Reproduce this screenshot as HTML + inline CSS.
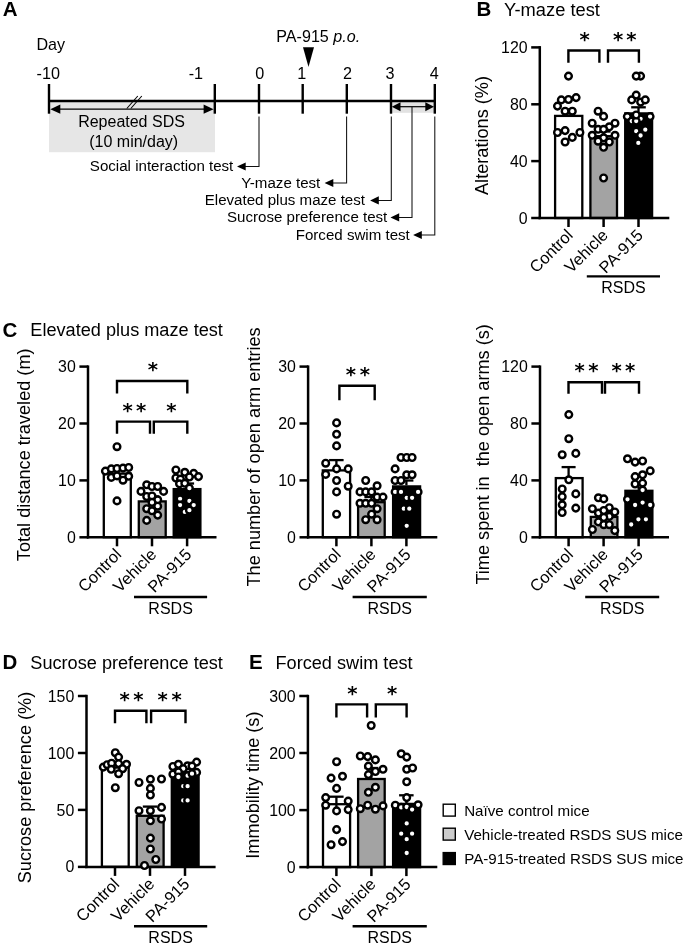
<!DOCTYPE html>
<html lang="en"><head><meta charset="utf-8"><title>Figure</title>
<style>
html,body{margin:0;padding:0;background:#fff;}
svg{display:block;font-family:"Liberation Sans", Arial, Helvetica, sans-serif;fill:#000;will-change:transform;}
</style></head><body>
<svg width="685" height="945" viewBox="0 0 685 945">
<rect x="0" y="0" width="685" height="945" fill="#fff"/>
<text x="2.8" y="16.3" font-size="20.5" text-anchor="start" font-weight="bold" >A</text>
<text x="36.5" y="50.0" font-size="16.1" text-anchor="start" font-weight="normal" >Day</text>
<rect x="49" y="101" width="166" height="51.2" fill="#e6e6e6"/>
<rect x="391" y="101" width="44" height="11.8" fill="#e2e2e2"/>
<line x1="48.0" y1="101.0" x2="436.0" y2="101.0" stroke="#000" stroke-width="2.5" />
<line x1="49.0" y1="84.0" x2="49.0" y2="113.7" stroke="#000" stroke-width="2.4" />
<line x1="214.8" y1="84.0" x2="214.8" y2="113.7" stroke="#000" stroke-width="2.4" />
<line x1="259.0" y1="84.0" x2="259.0" y2="113.7" stroke="#000" stroke-width="2.4" />
<line x1="302.7" y1="84.0" x2="302.7" y2="113.7" stroke="#000" stroke-width="2.4" />
<line x1="346.8" y1="84.0" x2="346.8" y2="113.7" stroke="#000" stroke-width="2.4" />
<line x1="391.0" y1="84.0" x2="391.0" y2="113.7" stroke="#000" stroke-width="2.4" />
<line x1="434.8" y1="84.0" x2="434.8" y2="113.7" stroke="#000" stroke-width="2.4" />
<text x="48.3" y="78.6" font-size="16.2" text-anchor="middle" font-weight="normal" >-10</text>
<text x="195.9" y="78.6" font-size="16.2" text-anchor="middle" font-weight="normal" >-1</text>
<text x="259.7" y="78.6" font-size="16.2" text-anchor="middle" font-weight="normal" >0</text>
<text x="301.7" y="78.6" font-size="16.2" text-anchor="middle" font-weight="normal" >1</text>
<text x="347.5" y="78.6" font-size="16.2" text-anchor="middle" font-weight="normal" >2</text>
<text x="390.0" y="78.6" font-size="16.2" text-anchor="middle" font-weight="normal" >3</text>
<text x="434.2" y="78.6" font-size="16.2" text-anchor="middle" font-weight="normal" >4</text>
<text x="276.3" y="42" font-size="16.1">PA-915 <tspan font-style="italic">p.o.</tspan></text>
<polygon points="303,47.2 314,47.2 308.5,67" fill="#000"/>
<line x1="56.3" y1="109.2" x2="207.6" y2="109.2" stroke="#000" stroke-width="1.2" />
<polygon points="50.3,109.2 60.3,104.6 60.3,113.8" fill="#000"/>
<polygon points="213.6,109.2 203.6,104.6 203.6,113.8" fill="#000"/>
<line x1="397.0" y1="106.7" x2="428.8" y2="106.7" stroke="#000" stroke-width="1.2" />
<polygon points="391.8,106.7 400.5,102.2 400.5,111.2" fill="#000"/>
<polygon points="434.0,106.7 425.3,102.2 425.3,111.2" fill="#000"/>
<line x1="126.8" y1="108.5" x2="137.8" y2="96.0" stroke="#000" stroke-width="1.1" />
<line x1="130.8" y1="108.5" x2="141.8" y2="96.0" stroke="#000" stroke-width="1.1" />
<text x="131.5" y="127.2" font-size="16.0" text-anchor="middle" font-weight="normal" >Repeated SDS</text>
<text x="133.7" y="147.0" font-size="16.0" text-anchor="middle" font-weight="normal" >(10 min/day)</text>
<polyline points="259.0,116.5 259.0,166.5 242.0,166.5" fill="none" stroke="#111" stroke-width="1.05"/>
<polygon points="237.0,166.5 245.7,162.4 245.7,170.6" fill="#000"/>
<text x="233.3" y="171.3" font-size="15.1" text-anchor="end" font-weight="normal" >Social interaction test</text>
<polyline points="346.6,116.5 346.6,183.0 329.6,183.0" fill="none" stroke="#111" stroke-width="1.05"/>
<polygon points="324.6,183.0 333.3,178.9 333.3,187.1" fill="#000"/>
<text x="320.3" y="187.8" font-size="15.1" text-anchor="end" font-weight="normal" >Y-maze test</text>
<polyline points="391.3,116.5 391.3,200.4 375.1,200.4" fill="none" stroke="#111" stroke-width="1.05"/>
<polygon points="370.1,200.4 378.8,196.3 378.8,204.5" fill="#000"/>
<text x="365.0" y="205.2" font-size="15.1" text-anchor="end" font-weight="normal" >Elevated plus maze test</text>
<polyline points="412.0,107.0 412.0,217.4 395.5,217.4" fill="none" stroke="#111" stroke-width="1.05"/>
<polygon points="390.5,217.4 399.2,213.3 399.2,221.5" fill="#000"/>
<text x="387.3" y="222.2" font-size="15.1" text-anchor="end" font-weight="normal" >Sucrose preference test</text>
<polyline points="434.8,116.5 434.8,235.0 418.1,235.0" fill="none" stroke="#111" stroke-width="1.05"/>
<polygon points="413.1,235.0 421.8,230.9 421.8,239.1" fill="#000"/>
<text x="409.8" y="239.8" font-size="15.1" text-anchor="end" font-weight="normal" >Forced swim test</text>
<text x="476.5" y="16.3" font-size="20.5" text-anchor="start" font-weight="bold" >B</text>
<text x="504.0" y="15.9" font-size="18.3" text-anchor="start" font-weight="normal" >Y-maze test</text>
<rect x="555.1" y="115.9" width="27.2" height="102.1" fill="#fff" stroke="#000" stroke-width="2.3"/>
<rect x="590.4" y="136.2" width="26.6" height="81.8" fill="#a3a3a3" stroke="#000" stroke-width="2.3"/>
<rect x="625.2" y="113.4" width="26.9" height="104.6" fill="#000" stroke="#000" stroke-width="2.3"/>
<line x1="568.5" y1="109.5" x2="568.5" y2="114.7" stroke="#000" stroke-width="2.3" />
<line x1="561.5" y1="109.5" x2="575.5" y2="109.5" stroke="#000" stroke-width="2.3" />
<line x1="603.6" y1="131.5" x2="603.6" y2="135.5" stroke="#000" stroke-width="2.3" />
<line x1="596.6" y1="131.5" x2="610.6" y2="131.5" stroke="#000" stroke-width="2.3" />
<line x1="638.5" y1="107.3" x2="638.5" y2="112.2" stroke="#000" stroke-width="2.3" />
<line x1="631.2" y1="107.3" x2="645.8" y2="107.3" stroke="#000" stroke-width="2.3" />
<line x1="539.8" y1="46.1" x2="539.8" y2="219.2" stroke="#000" stroke-width="2.5" />
<line x1="538.5" y1="218.0" x2="669.3" y2="218.0" stroke="#000" stroke-width="2.5" />
<line x1="531.2" y1="218.0" x2="539.8" y2="218.0" stroke="#000" stroke-width="2.5" />
<text x="527.6" y="223.6" font-size="15.9" text-anchor="end" font-weight="normal" >0</text>
<line x1="531.2" y1="161.1" x2="539.8" y2="161.1" stroke="#000" stroke-width="2.5" />
<text x="527.6" y="166.7" font-size="15.9" text-anchor="end" font-weight="normal" >40</text>
<line x1="531.2" y1="104.3" x2="539.8" y2="104.3" stroke="#000" stroke-width="2.5" />
<text x="527.6" y="109.8" font-size="15.9" text-anchor="end" font-weight="normal" >80</text>
<line x1="531.2" y1="47.4" x2="539.8" y2="47.4" stroke="#000" stroke-width="2.5" />
<text x="527.6" y="53.0" font-size="15.9" text-anchor="end" font-weight="normal" >120</text>
<line x1="568.5" y1="218.0" x2="568.5" y2="227.0" stroke="#000" stroke-width="2.5" />
<line x1="603.6" y1="218.0" x2="603.6" y2="227.0" stroke="#000" stroke-width="2.5" />
<line x1="638.5" y1="218.0" x2="638.5" y2="227.0" stroke="#000" stroke-width="2.5" />
<circle cx="568.5" cy="76.1" r="3.33" fill="#fff" stroke="#000" stroke-width="2.4"/>
<circle cx="561.3" cy="99.9" r="3.33" fill="#fff" stroke="#000" stroke-width="2.4"/>
<circle cx="568.5" cy="99.5" r="3.33" fill="#fff" stroke="#000" stroke-width="2.4"/>
<circle cx="576.1" cy="97.6" r="3.33" fill="#fff" stroke="#000" stroke-width="2.4"/>
<circle cx="557.5" cy="106.1" r="3.33" fill="#fff" stroke="#000" stroke-width="2.4"/>
<circle cx="565.1" cy="111.2" r="3.33" fill="#fff" stroke="#000" stroke-width="2.4"/>
<circle cx="572.3" cy="111.2" r="3.33" fill="#fff" stroke="#000" stroke-width="2.4"/>
<circle cx="557.5" cy="132.5" r="3.33" fill="#fff" stroke="#000" stroke-width="2.4"/>
<circle cx="565.1" cy="130.6" r="3.33" fill="#fff" stroke="#000" stroke-width="2.4"/>
<circle cx="579.9" cy="132.5" r="3.33" fill="#fff" stroke="#000" stroke-width="2.4"/>
<circle cx="572.3" cy="137.4" r="3.33" fill="#fff" stroke="#000" stroke-width="2.4"/>
<circle cx="565.1" cy="142.0" r="3.33" fill="#fff" stroke="#000" stroke-width="2.4"/>
<circle cx="598.1" cy="111.2" r="3.33" fill="#fff" stroke="#000" stroke-width="2.4"/>
<circle cx="603.6" cy="116.4" r="3.33" fill="#fff" stroke="#000" stroke-width="2.4"/>
<circle cx="592.2" cy="123.2" r="3.33" fill="#fff" stroke="#000" stroke-width="2.4"/>
<circle cx="615.0" cy="123.2" r="3.33" fill="#fff" stroke="#000" stroke-width="2.4"/>
<circle cx="609.3" cy="126.8" r="3.33" fill="#fff" stroke="#000" stroke-width="2.4"/>
<circle cx="598.1" cy="129.3" r="3.33" fill="#fff" stroke="#000" stroke-width="2.4"/>
<circle cx="603.6" cy="129.3" r="3.33" fill="#fff" stroke="#000" stroke-width="2.4"/>
<circle cx="592.2" cy="135.3" r="3.33" fill="#fff" stroke="#000" stroke-width="2.4"/>
<circle cx="615.0" cy="135.3" r="3.33" fill="#fff" stroke="#000" stroke-width="2.4"/>
<circle cx="603.6" cy="137.8" r="3.33" fill="#fff" stroke="#000" stroke-width="2.4"/>
<circle cx="598.1" cy="141.2" r="3.33" fill="#fff" stroke="#000" stroke-width="2.4"/>
<circle cx="609.3" cy="142.0" r="3.33" fill="#fff" stroke="#000" stroke-width="2.4"/>
<circle cx="603.6" cy="147.3" r="3.33" fill="#fff" stroke="#000" stroke-width="2.4"/>
<circle cx="603.6" cy="178.0" r="3.33" fill="#fff" stroke="#000" stroke-width="2.4"/>
<circle cx="640.6" cy="76.1" r="3.33" fill="#fff" stroke="#000" stroke-width="2.4"/>
<circle cx="636.2" cy="76.1" r="3.33" fill="#fff" stroke="#000" stroke-width="2.4"/>
<circle cx="640.6" cy="102.1" r="3.33" fill="#fff" stroke="#000" stroke-width="2.4"/>
<circle cx="631.7" cy="99.9" r="3.33" fill="#fff" stroke="#000" stroke-width="2.4"/>
<circle cx="645.3" cy="99.9" r="3.33" fill="#fff" stroke="#000" stroke-width="2.4"/>
<circle cx="636.2" cy="95.1" r="3.33" fill="#fff" stroke="#000" stroke-width="2.4"/>
<circle cx="627.3" cy="116.6" r="3.33" fill="#fff" stroke="#000" stroke-width="2.4"/>
<circle cx="650.1" cy="116.6" r="3.33" fill="#fff" stroke="#000" stroke-width="2.4"/>
<circle cx="640.6" cy="118.8" r="3.33" fill="#fff" stroke="#000" stroke-width="2.4"/>
<circle cx="631.7" cy="121.1" r="3.33" fill="#fff" stroke="#000" stroke-width="2.4"/>
<circle cx="636.2" cy="121.1" r="3.33" fill="#fff" stroke="#000" stroke-width="2.4"/>
<circle cx="636.2" cy="115.0" r="3.33" fill="#fff" stroke="#000" stroke-width="2.4"/>
<circle cx="645.3" cy="129.7" r="3.33" fill="#fff" stroke="#000" stroke-width="2.4"/>
<circle cx="636.2" cy="131.2" r="3.33" fill="#fff" stroke="#000" stroke-width="2.4"/>
<circle cx="640.6" cy="135.5" r="3.33" fill="#fff" stroke="#000" stroke-width="2.4"/>
<circle cx="638.3" cy="142.9" r="3.33" fill="#fff" stroke="#000" stroke-width="2.4"/>
<polyline points="568.4,62.7 568.4,50.5 599.4,50.5 599.4,62.7" fill="none" stroke="#000" stroke-width="2.4" stroke-linejoin="miter"/>
<polyline points="608.0,62.7 608.0,50.5 638.9,50.5 638.9,62.7" fill="none" stroke="#000" stroke-width="2.4" stroke-linejoin="miter"/>
<text x="584.7" y="46.1" font-size="19.6" text-anchor="middle" font-weight="bold" font-family="'DejaVu Sans', 'Liberation Sans', sans-serif">*</text>
<text x="618.0" y="46.1" font-size="19.6" text-anchor="middle" font-weight="bold" font-family="'DejaVu Sans', 'Liberation Sans', sans-serif">*</text>
<text x="631.4" y="46.1" font-size="19.6" text-anchor="middle" font-weight="bold" font-family="'DejaVu Sans', 'Liberation Sans', sans-serif">*</text>
<text transform="translate(573.9,236.2) rotate(-45)" font-size="16.5" text-anchor="end">Control</text>
<text transform="translate(609.0,236.2) rotate(-45)" font-size="16.5" text-anchor="end">Vehicle</text>
<text transform="translate(643.9,236.2) rotate(-45)" font-size="16.5" text-anchor="end">PA-915</text>
<line x1="586.8" y1="276.4" x2="660.0" y2="276.4" stroke="#000" stroke-width="2.4" />
<text x="623.4" y="293.4" font-size="16.0" text-anchor="middle" font-weight="normal" >RSDS</text>
<text transform="translate(488.3,135.5) rotate(-90)" font-size="18.15" text-anchor="middle" xml:space="preserve" style="white-space:pre">Alterations (%)</text>
<text x="2.5" y="337.0" font-size="20.5" text-anchor="start" font-weight="bold" >C</text>
<text x="30.3" y="336.3" font-size="18.15" text-anchor="start" font-weight="normal" >Elevated plus maze test</text>
<rect x="103.8" y="473.6" width="27.0" height="63.6" fill="#fff" stroke="#000" stroke-width="2.3"/>
<rect x="138.8" y="501.4" width="26.9" height="35.8" fill="#a3a3a3" stroke="#000" stroke-width="2.3"/>
<rect x="173.7" y="489.1" width="26.7" height="48.1" fill="#000" stroke="#000" stroke-width="2.3"/>
<line x1="117.0" y1="469.0" x2="117.0" y2="472.5" stroke="#000" stroke-width="2.3" />
<line x1="110.0" y1="469.0" x2="124.0" y2="469.0" stroke="#000" stroke-width="2.3" />
<line x1="152.0" y1="496.5" x2="152.0" y2="500.3" stroke="#000" stroke-width="2.3" />
<line x1="145.0" y1="496.5" x2="159.0" y2="496.5" stroke="#000" stroke-width="2.3" />
<line x1="187.1" y1="483.5" x2="187.1" y2="488.0" stroke="#000" stroke-width="2.3" />
<line x1="180.1" y1="483.5" x2="194.1" y2="483.5" stroke="#000" stroke-width="2.3" />
<line x1="88.0" y1="365.4" x2="88.0" y2="538.5" stroke="#000" stroke-width="2.5" />
<line x1="86.8" y1="537.3" x2="216.5" y2="537.3" stroke="#000" stroke-width="2.5" />
<line x1="79.4" y1="537.3" x2="88.0" y2="537.3" stroke="#000" stroke-width="2.5" />
<text x="75.8" y="542.8" font-size="15.9" text-anchor="end" font-weight="normal" >0</text>
<line x1="79.4" y1="480.4" x2="88.0" y2="480.4" stroke="#000" stroke-width="2.5" />
<text x="75.8" y="485.9" font-size="15.9" text-anchor="end" font-weight="normal" >10</text>
<line x1="79.4" y1="423.5" x2="88.0" y2="423.5" stroke="#000" stroke-width="2.5" />
<text x="75.8" y="429.1" font-size="15.9" text-anchor="end" font-weight="normal" >20</text>
<line x1="79.4" y1="366.6" x2="88.0" y2="366.6" stroke="#000" stroke-width="2.5" />
<text x="75.8" y="372.2" font-size="15.9" text-anchor="end" font-weight="normal" >30</text>
<line x1="117.0" y1="537.3" x2="117.0" y2="546.3" stroke="#000" stroke-width="2.5" />
<line x1="152.0" y1="537.3" x2="152.0" y2="546.3" stroke="#000" stroke-width="2.5" />
<line x1="187.1" y1="537.3" x2="187.1" y2="546.3" stroke="#000" stroke-width="2.5" />
<circle cx="117.0" cy="446.7" r="3.33" fill="#fff" stroke="#000" stroke-width="2.4"/>
<circle cx="105.4" cy="471.1" r="3.33" fill="#fff" stroke="#000" stroke-width="2.4"/>
<circle cx="111.3" cy="468.9" r="3.33" fill="#fff" stroke="#000" stroke-width="2.4"/>
<circle cx="117.0" cy="468.5" r="3.33" fill="#fff" stroke="#000" stroke-width="2.4"/>
<circle cx="123.0" cy="468.1" r="3.33" fill="#fff" stroke="#000" stroke-width="2.4"/>
<circle cx="128.7" cy="467.5" r="3.33" fill="#fff" stroke="#000" stroke-width="2.4"/>
<circle cx="111.3" cy="477.4" r="3.33" fill="#fff" stroke="#000" stroke-width="2.4"/>
<circle cx="117.0" cy="475.9" r="3.33" fill="#fff" stroke="#000" stroke-width="2.4"/>
<circle cx="123.0" cy="480.2" r="3.33" fill="#fff" stroke="#000" stroke-width="2.4"/>
<circle cx="128.7" cy="476.3" r="3.33" fill="#fff" stroke="#000" stroke-width="2.4"/>
<circle cx="117.0" cy="500.9" r="3.33" fill="#fff" stroke="#000" stroke-width="2.4"/>
<circle cx="146.7" cy="484.8" r="3.33" fill="#fff" stroke="#000" stroke-width="2.4"/>
<circle cx="152.0" cy="486.5" r="3.33" fill="#fff" stroke="#000" stroke-width="2.4"/>
<circle cx="157.7" cy="486.5" r="3.33" fill="#fff" stroke="#000" stroke-width="2.4"/>
<circle cx="141.0" cy="491.4" r="3.33" fill="#fff" stroke="#000" stroke-width="2.4"/>
<circle cx="163.6" cy="491.4" r="3.33" fill="#fff" stroke="#000" stroke-width="2.4"/>
<circle cx="146.7" cy="496.5" r="3.33" fill="#fff" stroke="#000" stroke-width="2.4"/>
<circle cx="152.0" cy="496.0" r="3.33" fill="#fff" stroke="#000" stroke-width="2.4"/>
<circle cx="157.7" cy="499.8" r="3.33" fill="#fff" stroke="#000" stroke-width="2.4"/>
<circle cx="152.0" cy="502.4" r="3.33" fill="#fff" stroke="#000" stroke-width="2.4"/>
<circle cx="157.7" cy="506.2" r="3.33" fill="#fff" stroke="#000" stroke-width="2.4"/>
<circle cx="146.7" cy="508.7" r="3.33" fill="#fff" stroke="#000" stroke-width="2.4"/>
<circle cx="152.0" cy="510.8" r="3.33" fill="#fff" stroke="#000" stroke-width="2.4"/>
<circle cx="157.7" cy="515.1" r="3.33" fill="#fff" stroke="#000" stroke-width="2.4"/>
<circle cx="146.7" cy="520.4" r="3.33" fill="#fff" stroke="#000" stroke-width="2.4"/>
<circle cx="175.9" cy="470.0" r="3.33" fill="#fff" stroke="#000" stroke-width="2.4"/>
<circle cx="184.8" cy="472.3" r="3.33" fill="#fff" stroke="#000" stroke-width="2.4"/>
<circle cx="193.7" cy="473.4" r="3.33" fill="#fff" stroke="#000" stroke-width="2.4"/>
<circle cx="198.5" cy="476.6" r="3.33" fill="#fff" stroke="#000" stroke-width="2.4"/>
<circle cx="175.9" cy="478.0" r="3.33" fill="#fff" stroke="#000" stroke-width="2.4"/>
<circle cx="180.5" cy="479.1" r="3.33" fill="#fff" stroke="#000" stroke-width="2.4"/>
<circle cx="189.4" cy="477.0" r="3.33" fill="#fff" stroke="#000" stroke-width="2.4"/>
<circle cx="179.5" cy="483.8" r="3.33" fill="#fff" stroke="#000" stroke-width="2.4"/>
<circle cx="184.8" cy="483.3" r="3.33" fill="#fff" stroke="#000" stroke-width="2.4"/>
<circle cx="189.4" cy="488.2" r="3.33" fill="#fff" stroke="#000" stroke-width="2.4"/>
<circle cx="180.1" cy="498.8" r="3.33" fill="#fff" stroke="#000" stroke-width="2.4"/>
<circle cx="189.4" cy="500.9" r="3.33" fill="#fff" stroke="#000" stroke-width="2.4"/>
<circle cx="180.1" cy="505.1" r="3.33" fill="#fff" stroke="#000" stroke-width="2.4"/>
<circle cx="193.7" cy="505.1" r="3.33" fill="#fff" stroke="#000" stroke-width="2.4"/>
<circle cx="184.8" cy="511.9" r="3.33" fill="#fff" stroke="#000" stroke-width="2.4"/>
<circle cx="189.4" cy="510.2" r="3.33" fill="#fff" stroke="#000" stroke-width="2.4"/>
<polyline points="117.0,393.5 117.0,381.0 187.3,381.0 187.3,393.5" fill="none" stroke="#000" stroke-width="2.4" stroke-linejoin="miter"/>
<polyline points="117.0,433.8 117.0,421.6 150.0,421.6 150.0,433.8" fill="none" stroke="#000" stroke-width="2.4" stroke-linejoin="miter"/>
<polyline points="153.8,433.8 153.8,421.6 187.3,421.6 187.3,433.8" fill="none" stroke="#000" stroke-width="2.4" stroke-linejoin="miter"/>
<text x="152.8" y="376.2" font-size="19.6" text-anchor="middle" font-weight="bold" font-family="'DejaVu Sans', 'Liberation Sans', sans-serif">*</text>
<text x="127.6" y="417.0" font-size="19.6" text-anchor="middle" font-weight="bold" font-family="'DejaVu Sans', 'Liberation Sans', sans-serif">*</text>
<text x="141.2" y="417.0" font-size="19.6" text-anchor="middle" font-weight="bold" font-family="'DejaVu Sans', 'Liberation Sans', sans-serif">*</text>
<text x="171.4" y="417.0" font-size="19.6" text-anchor="middle" font-weight="bold" font-family="'DejaVu Sans', 'Liberation Sans', sans-serif">*</text>
<text transform="translate(122.4,555.5) rotate(-45)" font-size="16.5" text-anchor="end">Control</text>
<text transform="translate(157.4,555.5) rotate(-45)" font-size="16.5" text-anchor="end">Vehicle</text>
<text transform="translate(192.5,555.5) rotate(-45)" font-size="16.5" text-anchor="end">PA-915</text>
<line x1="134.0" y1="597.0" x2="207.1" y2="597.0" stroke="#000" stroke-width="2.4" />
<text x="170.6" y="614.0" font-size="16.0" text-anchor="middle" font-weight="normal" >RSDS</text>
<text transform="translate(30.4,454.8) rotate(-90)" font-size="18.15" text-anchor="middle" xml:space="preserve" style="white-space:pre">Total distance traveled (m)</text>
<rect x="322.8" y="470.4" width="27.3" height="66.8" fill="#fff" stroke="#000" stroke-width="2.3"/>
<rect x="358.1" y="502.2" width="26.6" height="35.0" fill="#a3a3a3" stroke="#000" stroke-width="2.3"/>
<rect x="393.1" y="486.4" width="27.0" height="50.8" fill="#000" stroke="#000" stroke-width="2.3"/>
<line x1="336.4" y1="460.1" x2="336.4" y2="469.3" stroke="#000" stroke-width="2.3" />
<line x1="329.1" y1="460.1" x2="343.6" y2="460.1" stroke="#000" stroke-width="2.3" />
<line x1="371.4" y1="497.0" x2="371.4" y2="501.1" stroke="#000" stroke-width="2.3" />
<line x1="364.4" y1="497.0" x2="378.4" y2="497.0" stroke="#000" stroke-width="2.3" />
<line x1="406.4" y1="480.5" x2="406.4" y2="485.3" stroke="#000" stroke-width="2.3" />
<line x1="399.4" y1="480.5" x2="413.4" y2="480.5" stroke="#000" stroke-width="2.3" />
<line x1="308.1" y1="365.4" x2="308.1" y2="538.5" stroke="#000" stroke-width="2.5" />
<line x1="306.9" y1="537.3" x2="437.3" y2="537.3" stroke="#000" stroke-width="2.5" />
<line x1="299.5" y1="537.3" x2="308.1" y2="537.3" stroke="#000" stroke-width="2.5" />
<text x="295.9" y="542.8" font-size="15.9" text-anchor="end" font-weight="normal" >0</text>
<line x1="299.5" y1="480.4" x2="308.1" y2="480.4" stroke="#000" stroke-width="2.5" />
<text x="295.9" y="485.9" font-size="15.9" text-anchor="end" font-weight="normal" >10</text>
<line x1="299.5" y1="423.5" x2="308.1" y2="423.5" stroke="#000" stroke-width="2.5" />
<text x="295.9" y="429.1" font-size="15.9" text-anchor="end" font-weight="normal" >20</text>
<line x1="299.5" y1="366.6" x2="308.1" y2="366.6" stroke="#000" stroke-width="2.5" />
<text x="295.9" y="372.2" font-size="15.9" text-anchor="end" font-weight="normal" >30</text>
<line x1="336.4" y1="537.3" x2="336.4" y2="546.3" stroke="#000" stroke-width="2.5" />
<line x1="371.4" y1="537.3" x2="371.4" y2="546.3" stroke="#000" stroke-width="2.5" />
<line x1="406.4" y1="537.3" x2="406.4" y2="546.3" stroke="#000" stroke-width="2.5" />
<circle cx="336.6" cy="422.9" r="3.33" fill="#fff" stroke="#000" stroke-width="2.4"/>
<circle cx="336.6" cy="434.3" r="3.33" fill="#fff" stroke="#000" stroke-width="2.4"/>
<circle cx="336.6" cy="445.9" r="3.33" fill="#fff" stroke="#000" stroke-width="2.4"/>
<circle cx="325.7" cy="463.2" r="3.33" fill="#fff" stroke="#000" stroke-width="2.4"/>
<circle cx="336.6" cy="468.9" r="3.33" fill="#fff" stroke="#000" stroke-width="2.4"/>
<circle cx="348.2" cy="468.9" r="3.33" fill="#fff" stroke="#000" stroke-width="2.4"/>
<circle cx="325.7" cy="474.4" r="3.33" fill="#fff" stroke="#000" stroke-width="2.4"/>
<circle cx="336.6" cy="480.5" r="3.33" fill="#fff" stroke="#000" stroke-width="2.4"/>
<circle cx="348.2" cy="486.2" r="3.33" fill="#fff" stroke="#000" stroke-width="2.4"/>
<circle cx="336.6" cy="491.9" r="3.33" fill="#fff" stroke="#000" stroke-width="2.4"/>
<circle cx="336.6" cy="514.2" r="3.33" fill="#fff" stroke="#000" stroke-width="2.4"/>
<circle cx="365.7" cy="480.5" r="3.33" fill="#fff" stroke="#000" stroke-width="2.4"/>
<circle cx="377.1" cy="485.8" r="3.33" fill="#fff" stroke="#000" stroke-width="2.4"/>
<circle cx="360.0" cy="491.9" r="3.33" fill="#fff" stroke="#000" stroke-width="2.4"/>
<circle cx="365.7" cy="491.9" r="3.33" fill="#fff" stroke="#000" stroke-width="2.4"/>
<circle cx="371.6" cy="491.9" r="3.33" fill="#fff" stroke="#000" stroke-width="2.4"/>
<circle cx="377.1" cy="497.1" r="3.33" fill="#fff" stroke="#000" stroke-width="2.4"/>
<circle cx="383.0" cy="497.1" r="3.33" fill="#fff" stroke="#000" stroke-width="2.4"/>
<circle cx="360.0" cy="503.3" r="3.33" fill="#fff" stroke="#000" stroke-width="2.4"/>
<circle cx="365.7" cy="503.3" r="3.33" fill="#fff" stroke="#000" stroke-width="2.4"/>
<circle cx="371.6" cy="503.3" r="3.33" fill="#fff" stroke="#000" stroke-width="2.4"/>
<circle cx="377.1" cy="508.7" r="3.33" fill="#fff" stroke="#000" stroke-width="2.4"/>
<circle cx="371.6" cy="514.2" r="3.33" fill="#fff" stroke="#000" stroke-width="2.4"/>
<circle cx="365.7" cy="519.7" r="3.33" fill="#fff" stroke="#000" stroke-width="2.4"/>
<circle cx="377.1" cy="519.7" r="3.33" fill="#fff" stroke="#000" stroke-width="2.4"/>
<circle cx="401.0" cy="457.5" r="3.33" fill="#fff" stroke="#000" stroke-width="2.4"/>
<circle cx="406.7" cy="457.5" r="3.33" fill="#fff" stroke="#000" stroke-width="2.4"/>
<circle cx="412.1" cy="457.5" r="3.33" fill="#fff" stroke="#000" stroke-width="2.4"/>
<circle cx="395.1" cy="468.9" r="3.33" fill="#fff" stroke="#000" stroke-width="2.4"/>
<circle cx="406.7" cy="474.8" r="3.33" fill="#fff" stroke="#000" stroke-width="2.4"/>
<circle cx="412.1" cy="474.8" r="3.33" fill="#fff" stroke="#000" stroke-width="2.4"/>
<circle cx="395.1" cy="480.5" r="3.33" fill="#fff" stroke="#000" stroke-width="2.4"/>
<circle cx="401.0" cy="480.5" r="3.33" fill="#fff" stroke="#000" stroke-width="2.4"/>
<circle cx="395.1" cy="491.9" r="3.33" fill="#fff" stroke="#000" stroke-width="2.4"/>
<circle cx="401.0" cy="491.9" r="3.33" fill="#fff" stroke="#000" stroke-width="2.4"/>
<circle cx="418.1" cy="491.9" r="3.33" fill="#fff" stroke="#000" stroke-width="2.4"/>
<circle cx="406.7" cy="497.8" r="3.33" fill="#fff" stroke="#000" stroke-width="2.4"/>
<circle cx="412.1" cy="497.8" r="3.33" fill="#fff" stroke="#000" stroke-width="2.4"/>
<circle cx="403.8" cy="508.7" r="3.33" fill="#fff" stroke="#000" stroke-width="2.4"/>
<circle cx="409.3" cy="508.7" r="3.33" fill="#fff" stroke="#000" stroke-width="2.4"/>
<circle cx="406.7" cy="525.8" r="3.33" fill="#fff" stroke="#000" stroke-width="2.4"/>
<polyline points="339.4,400.2 339.4,385.7 374.7,385.7 374.7,400.2" fill="none" stroke="#000" stroke-width="2.4" stroke-linejoin="miter"/>
<text x="350.8" y="381.1" font-size="19.6" text-anchor="middle" font-weight="bold" font-family="'DejaVu Sans', 'Liberation Sans', sans-serif">*</text>
<text x="364.9" y="381.1" font-size="19.6" text-anchor="middle" font-weight="bold" font-family="'DejaVu Sans', 'Liberation Sans', sans-serif">*</text>
<text transform="translate(341.8,555.5) rotate(-45)" font-size="16.5" text-anchor="end">Control</text>
<text transform="translate(376.8,555.5) rotate(-45)" font-size="16.5" text-anchor="end">Vehicle</text>
<text transform="translate(411.8,555.5) rotate(-45)" font-size="16.5" text-anchor="end">PA-915</text>
<line x1="352.6" y1="597.0" x2="426.8" y2="597.0" stroke="#000" stroke-width="2.4" />
<text x="389.7" y="614.0" font-size="16.0" text-anchor="middle" font-weight="normal" >RSDS</text>
<text transform="translate(259.7,456.9) rotate(-90)" font-size="18.15" text-anchor="middle" xml:space="preserve" style="white-space:pre">The number of open arm entries</text>
<rect x="555.8" y="478.1" width="26.8" height="59.1" fill="#fff" stroke="#000" stroke-width="2.3"/>
<rect x="590.8" y="516.9" width="26.6" height="20.4" fill="#a3a3a3" stroke="#000" stroke-width="2.3"/>
<rect x="625.4" y="490.8" width="27.0" height="46.4" fill="#000" stroke="#000" stroke-width="2.3"/>
<line x1="568.6" y1="467.1" x2="568.6" y2="477.0" stroke="#000" stroke-width="2.3" />
<line x1="561.6" y1="467.1" x2="575.6" y2="467.1" stroke="#000" stroke-width="2.3" />
<line x1="603.6" y1="512.5" x2="603.6" y2="515.8" stroke="#000" stroke-width="2.3" />
<line x1="596.6" y1="512.5" x2="610.6" y2="512.5" stroke="#000" stroke-width="2.3" />
<line x1="638.6" y1="484.0" x2="638.6" y2="489.7" stroke="#000" stroke-width="2.3" />
<line x1="631.6" y1="484.0" x2="645.6" y2="484.0" stroke="#000" stroke-width="2.3" />
<line x1="540.0" y1="365.4" x2="540.0" y2="538.5" stroke="#000" stroke-width="2.5" />
<line x1="538.8" y1="537.3" x2="669.0" y2="537.3" stroke="#000" stroke-width="2.5" />
<line x1="531.4" y1="537.3" x2="540.0" y2="537.3" stroke="#000" stroke-width="2.5" />
<text x="527.8" y="542.8" font-size="15.9" text-anchor="end" font-weight="normal" >0</text>
<line x1="531.4" y1="480.4" x2="540.0" y2="480.4" stroke="#000" stroke-width="2.5" />
<text x="527.8" y="485.9" font-size="15.9" text-anchor="end" font-weight="normal" >40</text>
<line x1="531.4" y1="423.5" x2="540.0" y2="423.5" stroke="#000" stroke-width="2.5" />
<text x="527.8" y="429.1" font-size="15.9" text-anchor="end" font-weight="normal" >80</text>
<line x1="531.4" y1="366.6" x2="540.0" y2="366.6" stroke="#000" stroke-width="2.5" />
<text x="527.8" y="372.2" font-size="15.9" text-anchor="end" font-weight="normal" >120</text>
<line x1="568.6" y1="537.3" x2="568.6" y2="546.3" stroke="#000" stroke-width="2.5" />
<line x1="603.6" y1="537.3" x2="603.6" y2="546.3" stroke="#000" stroke-width="2.5" />
<line x1="638.6" y1="537.3" x2="638.6" y2="546.3" stroke="#000" stroke-width="2.5" />
<circle cx="568.8" cy="414.6" r="3.33" fill="#fff" stroke="#000" stroke-width="2.4"/>
<circle cx="568.8" cy="438.7" r="3.33" fill="#fff" stroke="#000" stroke-width="2.4"/>
<circle cx="562.2" cy="454.7" r="3.33" fill="#fff" stroke="#000" stroke-width="2.4"/>
<circle cx="575.8" cy="453.4" r="3.33" fill="#fff" stroke="#000" stroke-width="2.4"/>
<circle cx="568.8" cy="479.8" r="3.33" fill="#fff" stroke="#000" stroke-width="2.4"/>
<circle cx="562.2" cy="489.0" r="3.33" fill="#fff" stroke="#000" stroke-width="2.4"/>
<circle cx="575.8" cy="493.9" r="3.33" fill="#fff" stroke="#000" stroke-width="2.4"/>
<circle cx="562.2" cy="496.7" r="3.33" fill="#fff" stroke="#000" stroke-width="2.4"/>
<circle cx="562.2" cy="504.8" r="3.33" fill="#fff" stroke="#000" stroke-width="2.4"/>
<circle cx="575.8" cy="508.1" r="3.33" fill="#fff" stroke="#000" stroke-width="2.4"/>
<circle cx="562.2" cy="512.5" r="3.33" fill="#fff" stroke="#000" stroke-width="2.4"/>
<circle cx="598.4" cy="497.8" r="3.33" fill="#fff" stroke="#000" stroke-width="2.4"/>
<circle cx="603.8" cy="498.9" r="3.33" fill="#fff" stroke="#000" stroke-width="2.4"/>
<circle cx="592.4" cy="508.7" r="3.33" fill="#fff" stroke="#000" stroke-width="2.4"/>
<circle cx="609.3" cy="507.7" r="3.33" fill="#fff" stroke="#000" stroke-width="2.4"/>
<circle cx="598.4" cy="513.1" r="3.33" fill="#fff" stroke="#000" stroke-width="2.4"/>
<circle cx="603.8" cy="510.5" r="3.33" fill="#fff" stroke="#000" stroke-width="2.4"/>
<circle cx="614.8" cy="512.0" r="3.33" fill="#fff" stroke="#000" stroke-width="2.4"/>
<circle cx="609.3" cy="516.4" r="3.33" fill="#fff" stroke="#000" stroke-width="2.4"/>
<circle cx="603.8" cy="517.5" r="3.33" fill="#fff" stroke="#000" stroke-width="2.4"/>
<circle cx="598.4" cy="521.9" r="3.33" fill="#fff" stroke="#000" stroke-width="2.4"/>
<circle cx="603.8" cy="524.7" r="3.33" fill="#fff" stroke="#000" stroke-width="2.4"/>
<circle cx="609.3" cy="524.7" r="3.33" fill="#fff" stroke="#000" stroke-width="2.4"/>
<circle cx="592.4" cy="529.5" r="3.33" fill="#fff" stroke="#000" stroke-width="2.4"/>
<circle cx="614.8" cy="530.6" r="3.33" fill="#fff" stroke="#000" stroke-width="2.4"/>
<circle cx="627.5" cy="458.8" r="3.33" fill="#fff" stroke="#000" stroke-width="2.4"/>
<circle cx="635.1" cy="462.1" r="3.33" fill="#fff" stroke="#000" stroke-width="2.4"/>
<circle cx="642.6" cy="461.0" r="3.33" fill="#fff" stroke="#000" stroke-width="2.4"/>
<circle cx="650.2" cy="470.9" r="3.33" fill="#fff" stroke="#000" stroke-width="2.4"/>
<circle cx="642.6" cy="474.8" r="3.33" fill="#fff" stroke="#000" stroke-width="2.4"/>
<circle cx="635.1" cy="476.6" r="3.33" fill="#fff" stroke="#000" stroke-width="2.4"/>
<circle cx="635.1" cy="484.0" r="3.33" fill="#fff" stroke="#000" stroke-width="2.4"/>
<circle cx="642.6" cy="483.1" r="3.33" fill="#fff" stroke="#000" stroke-width="2.4"/>
<circle cx="642.6" cy="490.1" r="3.33" fill="#fff" stroke="#000" stroke-width="2.4"/>
<circle cx="627.5" cy="499.3" r="3.33" fill="#fff" stroke="#000" stroke-width="2.4"/>
<circle cx="642.6" cy="502.6" r="3.33" fill="#fff" stroke="#000" stroke-width="2.4"/>
<circle cx="635.1" cy="505.0" r="3.33" fill="#fff" stroke="#000" stroke-width="2.4"/>
<circle cx="650.2" cy="505.0" r="3.33" fill="#fff" stroke="#000" stroke-width="2.4"/>
<circle cx="638.4" cy="519.3" r="3.33" fill="#fff" stroke="#000" stroke-width="2.4"/>
<circle cx="645.9" cy="519.3" r="3.33" fill="#fff" stroke="#000" stroke-width="2.4"/>
<circle cx="631.2" cy="524.5" r="3.33" fill="#fff" stroke="#000" stroke-width="2.4"/>
<polyline points="568.5,393.8 568.5,382.2 602.0,382.2 602.0,393.8" fill="none" stroke="#000" stroke-width="2.4" stroke-linejoin="miter"/>
<polyline points="605.0,393.8 605.0,382.2 639.0,382.2 639.0,393.8" fill="none" stroke="#000" stroke-width="2.4" stroke-linejoin="miter"/>
<text x="579.7" y="377.4" font-size="19.6" text-anchor="middle" font-weight="bold" font-family="'DejaVu Sans', 'Liberation Sans', sans-serif">*</text>
<text x="593.3" y="377.4" font-size="19.6" text-anchor="middle" font-weight="bold" font-family="'DejaVu Sans', 'Liberation Sans', sans-serif">*</text>
<text x="616.5" y="377.4" font-size="19.6" text-anchor="middle" font-weight="bold" font-family="'DejaVu Sans', 'Liberation Sans', sans-serif">*</text>
<text x="630.1" y="377.4" font-size="19.6" text-anchor="middle" font-weight="bold" font-family="'DejaVu Sans', 'Liberation Sans', sans-serif">*</text>
<text transform="translate(574.0,555.5) rotate(-45)" font-size="16.5" text-anchor="end">Control</text>
<text transform="translate(609.0,555.5) rotate(-45)" font-size="16.5" text-anchor="end">Vehicle</text>
<text transform="translate(644.0,555.5) rotate(-45)" font-size="16.5" text-anchor="end">PA-915</text>
<line x1="585.2" y1="597.0" x2="659.2" y2="597.0" stroke="#000" stroke-width="2.4" />
<text x="622.2" y="614.0" font-size="16.0" text-anchor="middle" font-weight="normal" >RSDS</text>
<text transform="translate(489.0,454.4) rotate(-90)" font-size="18.15" text-anchor="middle" xml:space="preserve" style="white-space:pre">Time spent in  the open arms (s)</text>
<text x="2.5" y="668.8" font-size="20.5" text-anchor="start" font-weight="bold" >D</text>
<text x="30.3" y="668.6" font-size="18.15" text-anchor="start" font-weight="normal" >Sucrose preference test</text>
<rect x="101.9" y="767.6" width="26.8" height="99.2" fill="#fff" stroke="#000" stroke-width="2.3"/>
<rect x="136.8" y="815.8" width="26.8" height="51.1" fill="#a3a3a3" stroke="#000" stroke-width="2.3"/>
<rect x="171.8" y="772.0" width="26.8" height="94.8" fill="#000" stroke="#000" stroke-width="2.3"/>
<line x1="115.0" y1="764.0" x2="115.0" y2="766.5" stroke="#000" stroke-width="2.3" />
<line x1="108.0" y1="764.0" x2="122.0" y2="764.0" stroke="#000" stroke-width="2.3" />
<line x1="150.0" y1="806.6" x2="150.0" y2="815.0" stroke="#000" stroke-width="2.3" />
<line x1="142.8" y1="806.6" x2="157.2" y2="806.6" stroke="#000" stroke-width="2.3" />
<line x1="185.0" y1="768.5" x2="185.0" y2="770.9" stroke="#000" stroke-width="2.3" />
<line x1="178.0" y1="768.5" x2="192.0" y2="768.5" stroke="#000" stroke-width="2.3" />
<line x1="86.5" y1="694.8" x2="86.5" y2="868.1" stroke="#000" stroke-width="2.5" />
<line x1="85.2" y1="866.9" x2="215.6" y2="866.9" stroke="#000" stroke-width="2.5" />
<line x1="77.9" y1="866.9" x2="86.5" y2="866.9" stroke="#000" stroke-width="2.5" />
<text x="74.3" y="872.4" font-size="15.9" text-anchor="end" font-weight="normal" >0</text>
<line x1="77.9" y1="809.9" x2="86.5" y2="809.9" stroke="#000" stroke-width="2.5" />
<text x="74.3" y="815.5" font-size="15.9" text-anchor="end" font-weight="normal" >50</text>
<line x1="77.9" y1="753.0" x2="86.5" y2="753.0" stroke="#000" stroke-width="2.5" />
<text x="74.3" y="758.5" font-size="15.9" text-anchor="end" font-weight="normal" >100</text>
<line x1="77.9" y1="696.0" x2="86.5" y2="696.0" stroke="#000" stroke-width="2.5" />
<text x="74.3" y="701.5" font-size="15.9" text-anchor="end" font-weight="normal" >150</text>
<line x1="115.0" y1="866.9" x2="115.0" y2="875.9" stroke="#000" stroke-width="2.5" />
<line x1="150.0" y1="866.9" x2="150.0" y2="875.9" stroke="#000" stroke-width="2.5" />
<line x1="185.0" y1="866.9" x2="185.0" y2="875.9" stroke="#000" stroke-width="2.5" />
<circle cx="115.3" cy="752.7" r="3.33" fill="#fff" stroke="#000" stroke-width="2.4"/>
<circle cx="118.6" cy="757.1" r="3.33" fill="#fff" stroke="#000" stroke-width="2.4"/>
<circle cx="103.3" cy="767.1" r="3.33" fill="#fff" stroke="#000" stroke-width="2.4"/>
<circle cx="107.2" cy="764.7" r="3.33" fill="#fff" stroke="#000" stroke-width="2.4"/>
<circle cx="111.6" cy="763.2" r="3.33" fill="#fff" stroke="#000" stroke-width="2.4"/>
<circle cx="118.6" cy="763.6" r="3.33" fill="#fff" stroke="#000" stroke-width="2.4"/>
<circle cx="126.5" cy="764.3" r="3.33" fill="#fff" stroke="#000" stroke-width="2.4"/>
<circle cx="111.2" cy="769.3" r="3.33" fill="#fff" stroke="#000" stroke-width="2.4"/>
<circle cx="122.6" cy="768.7" r="3.33" fill="#fff" stroke="#000" stroke-width="2.4"/>
<circle cx="118.6" cy="773.7" r="3.33" fill="#fff" stroke="#000" stroke-width="2.4"/>
<circle cx="115.3" cy="787.7" r="3.33" fill="#fff" stroke="#000" stroke-width="2.4"/>
<circle cx="139.0" cy="782.5" r="3.33" fill="#fff" stroke="#000" stroke-width="2.4"/>
<circle cx="150.4" cy="779.2" r="3.33" fill="#fff" stroke="#000" stroke-width="2.4"/>
<circle cx="161.5" cy="779.0" r="3.33" fill="#fff" stroke="#000" stroke-width="2.4"/>
<circle cx="150.4" cy="788.4" r="3.33" fill="#fff" stroke="#000" stroke-width="2.4"/>
<circle cx="150.4" cy="795.0" r="3.33" fill="#fff" stroke="#000" stroke-width="2.4"/>
<circle cx="161.5" cy="807.4" r="3.33" fill="#fff" stroke="#000" stroke-width="2.4"/>
<circle cx="139.0" cy="810.7" r="3.33" fill="#fff" stroke="#000" stroke-width="2.4"/>
<circle cx="150.4" cy="810.7" r="3.33" fill="#fff" stroke="#000" stroke-width="2.4"/>
<circle cx="161.5" cy="819.0" r="3.33" fill="#fff" stroke="#000" stroke-width="2.4"/>
<circle cx="150.4" cy="820.8" r="3.33" fill="#fff" stroke="#000" stroke-width="2.4"/>
<circle cx="150.4" cy="838.1" r="3.33" fill="#fff" stroke="#000" stroke-width="2.4"/>
<circle cx="150.4" cy="849.0" r="3.33" fill="#fff" stroke="#000" stroke-width="2.4"/>
<circle cx="155.8" cy="859.5" r="3.33" fill="#fff" stroke="#000" stroke-width="2.4"/>
<circle cx="144.5" cy="865.5" r="3.33" fill="#fff" stroke="#000" stroke-width="2.4"/>
<circle cx="196.6" cy="762.1" r="3.33" fill="#fff" stroke="#000" stroke-width="2.4"/>
<circle cx="172.9" cy="766.5" r="3.33" fill="#fff" stroke="#000" stroke-width="2.4"/>
<circle cx="178.4" cy="764.3" r="3.33" fill="#fff" stroke="#000" stroke-width="2.4"/>
<circle cx="187.6" cy="765.8" r="3.33" fill="#fff" stroke="#000" stroke-width="2.4"/>
<circle cx="192.0" cy="766.1" r="3.33" fill="#fff" stroke="#000" stroke-width="2.4"/>
<circle cx="183.2" cy="768.7" r="3.33" fill="#fff" stroke="#000" stroke-width="2.4"/>
<circle cx="172.9" cy="774.2" r="3.33" fill="#fff" stroke="#000" stroke-width="2.4"/>
<circle cx="178.4" cy="772.0" r="3.33" fill="#fff" stroke="#000" stroke-width="2.4"/>
<circle cx="196.6" cy="772.4" r="3.33" fill="#fff" stroke="#000" stroke-width="2.4"/>
<circle cx="178.4" cy="777.0" r="3.33" fill="#fff" stroke="#000" stroke-width="2.4"/>
<circle cx="187.6" cy="775.7" r="3.33" fill="#fff" stroke="#000" stroke-width="2.4"/>
<circle cx="192.0" cy="773.7" r="3.33" fill="#fff" stroke="#000" stroke-width="2.4"/>
<circle cx="183.2" cy="786.2" r="3.33" fill="#fff" stroke="#000" stroke-width="2.4"/>
<circle cx="187.6" cy="786.2" r="3.33" fill="#fff" stroke="#000" stroke-width="2.4"/>
<circle cx="183.2" cy="800.4" r="3.33" fill="#fff" stroke="#000" stroke-width="2.4"/>
<circle cx="187.6" cy="800.4" r="3.33" fill="#fff" stroke="#000" stroke-width="2.4"/>
<polyline points="115.0,723.2 115.0,710.7 146.4,710.7 146.4,723.2" fill="none" stroke="#000" stroke-width="2.4" stroke-linejoin="miter"/>
<polyline points="151.1,723.2 151.1,710.7 185.5,710.7 185.5,723.2" fill="none" stroke="#000" stroke-width="2.4" stroke-linejoin="miter"/>
<text x="124.7" y="706.3" font-size="19.6" text-anchor="middle" font-weight="bold" font-family="'DejaVu Sans', 'Liberation Sans', sans-serif">*</text>
<text x="138.4" y="706.3" font-size="19.6" text-anchor="middle" font-weight="bold" font-family="'DejaVu Sans', 'Liberation Sans', sans-serif">*</text>
<text x="162.7" y="706.3" font-size="19.6" text-anchor="middle" font-weight="bold" font-family="'DejaVu Sans', 'Liberation Sans', sans-serif">*</text>
<text x="176.5" y="706.3" font-size="19.6" text-anchor="middle" font-weight="bold" font-family="'DejaVu Sans', 'Liberation Sans', sans-serif">*</text>
<text transform="translate(120.4,885.1) rotate(-45)" font-size="16.5" text-anchor="end">Control</text>
<text transform="translate(155.4,885.1) rotate(-45)" font-size="16.5" text-anchor="end">Vehicle</text>
<text transform="translate(190.4,885.1) rotate(-45)" font-size="16.5" text-anchor="end">PA-915</text>
<line x1="134.0" y1="926.2" x2="207.2" y2="926.2" stroke="#000" stroke-width="2.4" />
<text x="170.6" y="943.2" font-size="16.0" text-anchor="middle" font-weight="normal" >RSDS</text>
<text transform="translate(31.1,787.5) rotate(-90)" font-size="18.15" text-anchor="middle" xml:space="preserve" style="white-space:pre">Sucrose preference (%)</text>
<text x="249.0" y="668.8" font-size="20.5" text-anchor="start" font-weight="bold" >E</text>
<text x="275.5" y="668.6" font-size="18.15" text-anchor="start" font-weight="normal" >Forced swim test</text>
<rect x="323.0" y="804.2" width="27.1" height="62.9" fill="#fff" stroke="#000" stroke-width="2.3"/>
<rect x="358.1" y="779.0" width="26.6" height="88.1" fill="#a3a3a3" stroke="#000" stroke-width="2.3"/>
<rect x="393.1" y="803.9" width="27.0" height="63.2" fill="#000" stroke="#000" stroke-width="2.3"/>
<line x1="336.4" y1="796.7" x2="336.4" y2="811.0" stroke="#000" stroke-width="2.3" />
<line x1="329.1" y1="796.7" x2="343.6" y2="796.7" stroke="#000" stroke-width="2.3" />
<line x1="371.4" y1="768.0" x2="371.4" y2="777.9" stroke="#000" stroke-width="2.3" />
<line x1="364.4" y1="768.0" x2="378.4" y2="768.0" stroke="#000" stroke-width="2.3" />
<line x1="406.4" y1="795.3" x2="406.4" y2="803.0" stroke="#000" stroke-width="2.3" />
<line x1="399.1" y1="795.3" x2="413.6" y2="795.3" stroke="#000" stroke-width="2.3" />
<line x1="307.9" y1="694.8" x2="307.9" y2="868.4" stroke="#000" stroke-width="2.5" />
<line x1="306.6" y1="867.1" x2="437.3" y2="867.1" stroke="#000" stroke-width="2.5" />
<line x1="299.3" y1="867.1" x2="307.9" y2="867.1" stroke="#000" stroke-width="2.5" />
<text x="295.7" y="872.6" font-size="15.9" text-anchor="end" font-weight="normal" >0</text>
<line x1="299.3" y1="810.1" x2="307.9" y2="810.1" stroke="#000" stroke-width="2.5" />
<text x="295.7" y="815.6" font-size="15.9" text-anchor="end" font-weight="normal" >100</text>
<line x1="299.3" y1="753.0" x2="307.9" y2="753.0" stroke="#000" stroke-width="2.5" />
<text x="295.7" y="758.6" font-size="15.9" text-anchor="end" font-weight="normal" >200</text>
<line x1="299.3" y1="696.0" x2="307.9" y2="696.0" stroke="#000" stroke-width="2.5" />
<text x="295.7" y="701.5" font-size="15.9" text-anchor="end" font-weight="normal" >300</text>
<line x1="336.4" y1="867.1" x2="336.4" y2="876.1" stroke="#000" stroke-width="2.5" />
<line x1="371.4" y1="867.1" x2="371.4" y2="876.1" stroke="#000" stroke-width="2.5" />
<line x1="406.4" y1="867.1" x2="406.4" y2="876.1" stroke="#000" stroke-width="2.5" />
<circle cx="336.6" cy="761.7" r="3.33" fill="#fff" stroke="#000" stroke-width="2.4"/>
<circle cx="331.1" cy="778.1" r="3.33" fill="#fff" stroke="#000" stroke-width="2.4"/>
<circle cx="342.5" cy="776.3" r="3.33" fill="#fff" stroke="#000" stroke-width="2.4"/>
<circle cx="336.6" cy="788.4" r="3.33" fill="#fff" stroke="#000" stroke-width="2.4"/>
<circle cx="325.7" cy="797.6" r="3.33" fill="#fff" stroke="#000" stroke-width="2.4"/>
<circle cx="348.2" cy="801.1" r="3.33" fill="#fff" stroke="#000" stroke-width="2.4"/>
<circle cx="325.7" cy="805.2" r="3.33" fill="#fff" stroke="#000" stroke-width="2.4"/>
<circle cx="336.6" cy="810.9" r="3.33" fill="#fff" stroke="#000" stroke-width="2.4"/>
<circle cx="348.2" cy="809.6" r="3.33" fill="#fff" stroke="#000" stroke-width="2.4"/>
<circle cx="336.6" cy="829.6" r="3.33" fill="#fff" stroke="#000" stroke-width="2.4"/>
<circle cx="342.5" cy="841.6" r="3.33" fill="#fff" stroke="#000" stroke-width="2.4"/>
<circle cx="331.1" cy="844.7" r="3.33" fill="#fff" stroke="#000" stroke-width="2.4"/>
<circle cx="371.2" cy="725.5" r="3.33" fill="#fff" stroke="#000" stroke-width="2.4"/>
<circle cx="360.3" cy="756.0" r="3.33" fill="#fff" stroke="#000" stroke-width="2.4"/>
<circle cx="367.7" cy="756.6" r="3.33" fill="#fff" stroke="#000" stroke-width="2.4"/>
<circle cx="375.4" cy="759.9" r="3.33" fill="#fff" stroke="#000" stroke-width="2.4"/>
<circle cx="368.4" cy="766.1" r="3.33" fill="#fff" stroke="#000" stroke-width="2.4"/>
<circle cx="383.0" cy="769.3" r="3.33" fill="#fff" stroke="#000" stroke-width="2.4"/>
<circle cx="375.4" cy="771.5" r="3.33" fill="#fff" stroke="#000" stroke-width="2.4"/>
<circle cx="368.4" cy="774.6" r="3.33" fill="#fff" stroke="#000" stroke-width="2.4"/>
<circle cx="375.4" cy="787.3" r="3.33" fill="#fff" stroke="#000" stroke-width="2.4"/>
<circle cx="368.4" cy="792.3" r="3.33" fill="#fff" stroke="#000" stroke-width="2.4"/>
<circle cx="360.3" cy="808.7" r="3.33" fill="#fff" stroke="#000" stroke-width="2.4"/>
<circle cx="367.7" cy="805.2" r="3.33" fill="#fff" stroke="#000" stroke-width="2.4"/>
<circle cx="375.4" cy="809.2" r="3.33" fill="#fff" stroke="#000" stroke-width="2.4"/>
<circle cx="383.0" cy="805.9" r="3.33" fill="#fff" stroke="#000" stroke-width="2.4"/>
<circle cx="401.2" cy="753.8" r="3.33" fill="#fff" stroke="#000" stroke-width="2.4"/>
<circle cx="406.7" cy="757.1" r="3.33" fill="#fff" stroke="#000" stroke-width="2.4"/>
<circle cx="406.7" cy="769.3" r="3.33" fill="#fff" stroke="#000" stroke-width="2.4"/>
<circle cx="412.6" cy="768.0" r="3.33" fill="#fff" stroke="#000" stroke-width="2.4"/>
<circle cx="406.7" cy="781.8" r="3.33" fill="#fff" stroke="#000" stroke-width="2.4"/>
<circle cx="406.7" cy="797.6" r="3.33" fill="#fff" stroke="#000" stroke-width="2.4"/>
<circle cx="395.3" cy="805.2" r="3.33" fill="#fff" stroke="#000" stroke-width="2.4"/>
<circle cx="418.1" cy="804.8" r="3.33" fill="#fff" stroke="#000" stroke-width="2.4"/>
<circle cx="401.2" cy="807.4" r="3.33" fill="#fff" stroke="#000" stroke-width="2.4"/>
<circle cx="406.7" cy="807.0" r="3.33" fill="#fff" stroke="#000" stroke-width="2.4"/>
<circle cx="412.1" cy="809.6" r="3.33" fill="#fff" stroke="#000" stroke-width="2.4"/>
<circle cx="406.7" cy="823.4" r="3.33" fill="#fff" stroke="#000" stroke-width="2.4"/>
<circle cx="401.2" cy="833.7" r="3.33" fill="#fff" stroke="#000" stroke-width="2.4"/>
<circle cx="412.1" cy="833.7" r="3.33" fill="#fff" stroke="#000" stroke-width="2.4"/>
<circle cx="406.7" cy="839.2" r="3.33" fill="#fff" stroke="#000" stroke-width="2.4"/>
<circle cx="406.7" cy="853.0" r="3.33" fill="#fff" stroke="#000" stroke-width="2.4"/>
<polyline points="336.4,717.5 336.4,704.4 367.1,704.4 367.1,717.5" fill="none" stroke="#000" stroke-width="2.4" stroke-linejoin="miter"/>
<polyline points="375.8,717.5 375.8,704.4 406.6,704.4 406.6,717.5" fill="none" stroke="#000" stroke-width="2.4" stroke-linejoin="miter"/>
<text x="352.4" y="699.7" font-size="19.6" text-anchor="middle" font-weight="bold" font-family="'DejaVu Sans', 'Liberation Sans', sans-serif">*</text>
<text x="392.0" y="699.7" font-size="19.6" text-anchor="middle" font-weight="bold" font-family="'DejaVu Sans', 'Liberation Sans', sans-serif">*</text>
<text transform="translate(341.8,885.3) rotate(-45)" font-size="16.5" text-anchor="end">Control</text>
<text transform="translate(376.8,885.3) rotate(-45)" font-size="16.5" text-anchor="end">Vehicle</text>
<text transform="translate(411.8,885.3) rotate(-45)" font-size="16.5" text-anchor="end">PA-915</text>
<line x1="352.6" y1="926.2" x2="426.8" y2="926.2" stroke="#000" stroke-width="2.4" />
<text x="389.7" y="943.2" font-size="16.0" text-anchor="middle" font-weight="normal" >RSDS</text>
<text transform="translate(258.9,785.1) rotate(-90)" font-size="18.15" text-anchor="middle" xml:space="preserve" style="white-space:pre">Immobility time (s)</text>
<rect x="443.2" y="804.2" width="12.1" height="11.9" fill="#fff" stroke="#000" stroke-width="1.4"/>
<text x="464.2" y="815.6" font-size="15.15" text-anchor="start" font-weight="normal" >Naïve control mice</text>
<rect x="443.2" y="828.2" width="12.1" height="11.9" fill="#cccccc" stroke="#000" stroke-width="1.4"/>
<text x="464.2" y="839.6" font-size="15.15" text-anchor="start" font-weight="normal" >Vehicle-treated RSDS SUS mice</text>
<rect x="443.2" y="852.6" width="12.1" height="11.9" fill="#000" stroke="#000" stroke-width="1.4"/>
<text x="464.2" y="864.0" font-size="15.15" text-anchor="start" font-weight="normal" >PA-915-treated RSDS SUS mice</text>
</svg></body></html>
